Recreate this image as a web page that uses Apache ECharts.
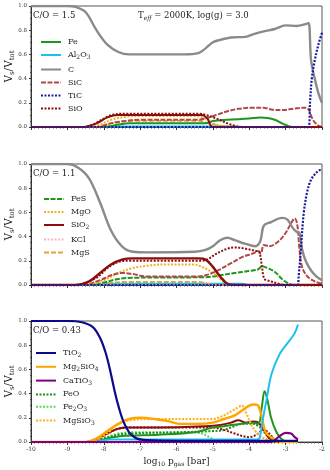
<!DOCTYPE html>
<html>
<head>
<meta charset="utf-8">
<script src="https://cdn.jsdelivr.net/npm/echarts@6/dist/echarts.min.js"></script>
<style>
  html, body { margin: 0; padding: 0; background: #fff; }
  #container { width: 330px; height: 470px; }
</style>
</head>
<body>
<div id="container"></div>
<script>
var dom = document.getElementById("container");
var myChart = echarts.init(dom);

// x = log10 p_gas [bar], y = V_s / V_tot
var xTicks = [-10, -9, -8, -7, -6, -5, -4, -3, -2];
var yTicks = [0.0, 0.2, 0.4, 0.6, 0.8, 1.0];
var panelLabels = ['C/O = 1.5', 'C/O = 1.1', 'C/O = 0.43'];

// ---- panel 1 : C/O = 1.5
var p1_Fe = [[-10,0],[-8.0,0],[-7.6,0.02],[-7.3,0.03],[-5.2,0.03],[-5.0,0.05],[-4.6,0.06],[-4.0,0.07],[-3.7,0.078],[-3.5,0.074],[-3.3,0.06],[-3.1,0.03],[-2.95,0.01],[-2.8,0],[-2,0]];
var p1_Al2O3 = [[-10,0],[-8.0,0],[-7.7,0.004],[-4.5,0.004],[-4.2,0],[-2,0]];
var p1_C = [[-10,1],[-9,1],[-8.75,0.99],[-8.5,0.95],[-8.2,0.8],[-7.9,0.68],[-7.6,0.62],[-7.3,0.6],[-6.5,0.6],[-5.8,0.6],[-5.4,0.61],[-5.2,0.65],[-5.0,0.7],[-4.8,0.72],[-4.5,0.74],[-4.1,0.745],[-3.9,0.765],[-3.6,0.79],[-3.3,0.81],[-3.0,0.84],[-2.7,0.835],[-2.45,0.85],[-2.37,0.86],[-2.3,0.55],[-2.2,0.4],[-2.1,0.28],[-2.0,0.2]];
var p1_SiC = [[-10,0],[-8.2,0],[-7.8,0.03],[-7.4,0.05],[-7.0,0.06],[-5.4,0.06],[-5.1,0.08],[-4.9,0.1],[-4.6,0.13],[-4.3,0.15],[-3.9,0.16],[-3.6,0.16],[-3.4,0.145],[-3.1,0.14],[-2.8,0.15],[-2.5,0.16],[-2.38,0.15],[-2.25,0.06],[-2.1,0.01],[-2.0,0]];
var p1_TiC = [[-10,0],[-2.37,0],[-2.33,0.2],[-2.28,0.4],[-2.2,0.55],[-2.1,0.68],[-2.0,0.78]];
var p1_SiO = [[-10,0],[-8.6,0],[-8.3,0.02],[-8.0,0.07],[-7.7,0.105],[-7.4,0.11],[-5.4,0.11],[-5.2,0.1],[-4.9,0.07],[-4.6,0.03],[-4.4,0.01],[-4.2,0],[-2,0]];
var p1_SiO2 = [[-10,0],[-8.6,0],[-8.2,0.03],[-7.9,0.08],[-7.6,0.1],[-5.3,0.1],[-5.15,0.07],[-5.0,0],[-2,0]];
var p1_MgO = [[-10,0],[-8.4,0],[-8.1,0.02],[-7.8,0.06],[-7.4,0.085],[-7.0,0.09],[-5.5,0.09],[-5.2,0.07],[-5.0,0.03],[-4.8,0.012],[-4.4,0.005],[-4.2,0],[-2,0]];
var p1_MgS = [[-10,0],[-8.2,0],[-7.7,0.04],[-7.2,0.05],[-5.4,0.05],[-5.1,0.03],[-4.8,0.01],[-4.6,0],[-2,0]];

// ---- panel 2 : C/O = 1.1
var p2_C = [[-10,1],[-9.0,1],[-8.7,0.97],[-8.4,0.88],[-8.1,0.68],[-7.8,0.45],[-7.5,0.32],[-7.2,0.275],[-6.8,0.27],[-5.5,0.275],[-5.2,0.29],[-5.0,0.32],[-4.8,0.37],[-4.6,0.39],[-4.4,0.37],[-4.1,0.34],[-3.85,0.32],[-3.7,0.36],[-3.6,0.49],[-3.4,0.52],[-3.1,0.555],[-2.95,0.54],[-2.8,0.47],[-2.7,0.44],[-2.62,0.43],[-2.55,0.3],[-2.45,0.2],[-2.3,0.12],[-2.15,0.07],[-2.0,0.04]];
var p2_TiC = [[-10,0],[-2.68,0],[-2.64,0.08],[-2.58,0.3],[-2.5,0.6],[-2.4,0.78],[-2.3,0.87],[-2.15,0.93],[-2.0,0.96]];
var p2_SiO2 = [[-10,0],[-8.8,0],[-8.4,0.03],[-8.1,0.1],[-7.8,0.17],[-7.5,0.21],[-7.2,0.22],[-5.4,0.22],[-5.2,0.21],[-5.0,0.15],[-4.8,0.07],[-4.6,0.01],[-4.4,0],[-2,0]];
var p2_SiO = [[-10,0],[-8.8,0],[-8.2,0.06],[-7.9,0.14],[-7.6,0.19],[-7.3,0.2],[-5.3,0.2],[-5.1,0.22],[-4.9,0.26],[-4.6,0.3],[-4.4,0.31],[-4.1,0.3],[-3.8,0.28],[-3.72,0.27],[-3.65,0.15],[-3.58,0.05],[-3.4,0.03],[-3.2,0.01],[-3.0,0],[-2,0]];
var p2_SiC = [[-10,0],[-8.6,0],[-8.1,0.04],[-7.8,0.08],[-7.5,0.1],[-7.2,0.09],[-6.8,0.07],[-5.4,0.07],[-5.1,0.09],[-4.8,0.13],[-4.5,0.18],[-4.2,0.23],[-3.9,0.26],[-3.75,0.28],[-3.68,0.26],[-3.6,0.33],[-3.45,0.32],[-3.2,0.36],[-3.0,0.43],[-2.85,0.51],[-2.75,0.55],[-2.68,0.5],[-2.62,0.3],[-2.55,0.15],[-2.4,0.07],[-2.2,0.03],[-2.0,0.01]];
var p2_MgO = [[-10,0],[-8.5,0],[-8.0,0.04],[-7.6,0.1],[-7.2,0.14],[-6.8,0.16],[-6.3,0.17],[-5.6,0.17],[-5.3,0.15],[-5.0,0.1],[-4.8,0.05],[-4.6,0.01],[-4.4,0],[-2,0]];
var p2_FeS = [[-10,0],[-8.3,0],[-8.0,0.02],[-7.6,0.05],[-7.2,0.06],[-5.2,0.065],[-4.8,0.08],[-4.4,0.1],[-4.0,0.115],[-3.75,0.13],[-3.65,0.155],[-3.5,0.14],[-3.3,0.11],[-3.1,0.05],[-2.9,0.01],[-2.7,0],[-2,0]];
var p2_Al2O3 = [[-10,0],[-8.2,0],[-7.9,0.01],[-4.2,0.01],[-4.0,0],[-2,0]];
var p2_KCl = [[-10,0],[-8.0,0],[-7.6,0.003],[-4.5,0.003],[-4.2,0],[-2,0]];
var p2_MgS = [[-10,0],[-8.3,0],[-7.8,0.02],[-7.4,0.025],[-5.4,0.025],[-5.1,0.01],[-4.8,0],[-2,0]];

// ---- panel 3 : C/O = 0.43
var p3_TiO2 = [[-10,1],[-9,1],[-8.6,0.99],[-8.3,0.95],[-8.1,0.86],[-7.95,0.74],[-7.83,0.6],[-7.7,0.42],[-7.58,0.28],[-7.46,0.17],[-7.3,0.08],[-7.1,0.03],[-6.8,0.015],[-6,0.01],[-2.66,0.01]];
var p3_Mg2SiO4 = [[-10,0],[-8.5,0],[-8.2,0.03],[-7.9,0.09],[-7.6,0.15],[-7.3,0.19],[-7.0,0.2],[-6.6,0.19],[-6.2,0.17],[-5.9,0.15],[-5.5,0.15],[-5.0,0.16],[-4.7,0.19],[-4.4,0.22],[-4.2,0.26],[-4.0,0.3],[-3.85,0.31],[-3.75,0.3],[-3.65,0.2],[-3.55,0.08],[-3.4,0.04],[-3.2,0.01],[-3.0,0],[-2.66,0]];
var p3_CaTiO3 = [[-10,0],[-3.4,0],[-3.2,0.04],[-3.0,0.075],[-2.85,0.07],[-2.75,0.04],[-2.66,0.02]];
var p3_FeO = [[-10,0],[-8.4,0],[-8.0,0.03],[-7.6,0.06],[-7.2,0.07],[-6.0,0.08],[-5.0,0.09],[-4.7,0.1],[-4.5,0.12],[-4.2,0.15],[-3.9,0.15],[-3.7,0.12],[-3.5,0.05],[-3.3,0.01],[-3.1,0],[-2.66,0]];
var p3_Fe2O3 = [[-10,0],[-8.4,0],[-8.0,0.03],[-7.6,0.07],[-7.2,0.08],[-5.6,0.08],[-5.3,0.07],[-5.1,0.04],[-4.9,0.01],[-4.7,0],[-2.66,0]];
var p3_MgSiO3 = [[-10,0],[-8.5,0],[-8.0,0.05],[-7.6,0.15],[-7.3,0.18],[-6.5,0.19],[-5.5,0.19],[-5.0,0.19],[-4.7,0.22],[-4.4,0.27],[-4.2,0.3],[-4.1,0.25],[-3.9,0.12],[-3.7,0.05],[-3.5,0.02],[-3.3,0],[-2.66,0]];
var p3_Al2O3 = [[-10,0],[-8.3,0],[-7.8,0.02],[-3.8,0.02],[-3.72,0.03],[-3.62,0.2],[-3.53,0.34],[-3.39,0.56],[-3.16,0.73],[-2.89,0.84],[-2.75,0.9],[-2.66,0.97]];
var p3_SiO2 = [[-10,0],[-8.5,0],[-8.1,0.04],[-7.7,0.1],[-7.4,0.12],[-6.5,0.12],[-5.2,0.13],[-4.8,0.14],[-4.5,0.16],[-4.3,0.18],[-4.1,0.16],[-3.9,0.17],[-3.75,0.16],[-3.6,0.1],[-3.45,0.03],[-3.3,0],[-2.66,0]];
var p3_SiO = [[-10,0],[-8.4,0],[-8.0,0.05],[-7.6,0.11],[-7.2,0.12],[-5.0,0.12],[-4.7,0.1],[-4.4,0.07],[-4.2,0.05],[-4.0,0.04],[-3.8,0.06],[-3.6,0.1],[-3.45,0.07],[-3.3,0.02],[-3.1,0],[-2.66,0]];
var p3_Fe = [[-10,0],[-8.3,0],[-7.9,0.03],[-7.5,0.05],[-6.5,0.06],[-5.5,0.08],[-5.0,0.12],[-4.7,0.13],[-4.5,0.14],[-4.2,0.15],[-3.9,0.16],[-3.75,0.15],[-3.65,0.3],[-3.58,0.42],[-3.5,0.35],[-3.4,0.2],[-3.25,0.08],[-3.1,0.02],[-2.9,0],[-2.66,0]];

var serif = 'DejaVu Serif';
var rich = {
    s: { fontSize: 6, fontFamily: serif, color: '#222', padding: [5, 0, 0, 0] },
    i: { fontSize: 6, fontFamily: serif, fontStyle: 'italic', color: '#222', padding: [5, 0, 0, 0] }
};
var richBig = {
    s: { fontSize: 7, fontFamily: serif, color: '#222', padding: [6, 0, 0, 0] }
};
function sub(name) {
    // Al2O3 -> Al{s|2}O{s|3}
    return name.replace(/(\d+)/g, '{s|$1}');
}

var seriesList = [];
function addLine(panel, name, data, color, type, width) {
    seriesList.push({
        name: name,
        type: 'line',
        xAxisIndex: panel,
        yAxisIndex: panel,
        data: data,
        smooth: 0.35,
        showSymbol: false,
        symbol: 'none',
        silent: true,
        lineStyle: { color: color, width: width || 2, type: type || 'solid' },
        itemStyle: { color: color }
    });
}

// panel 1
addLine(0, 'MgS', p1_MgS, '#e3a33b', [5, 2], 1.8);
addLine(0, 'Al2O3', p1_Al2O3, '#1fbfef', 'solid', 2);
addLine(0, 'MgO', p1_MgO, '#f2b01e', [2, 1.5], 2);
addLine(0, 'Fe', p1_Fe, '#1e961e', 'solid', 2);
addLine(0, 'SiC', p1_SiC, '#b04848', [5, 1.5], 2);
addLine(0, 'SiO2', p1_SiO2, '#8b0d0d', 'solid', 2);
addLine(0, 'SiO', p1_SiO, '#8b0d0d', [2, 1.5], 2);
addLine(0, 'C', p1_C, '#8a8a8a', 'solid', 2.4);
addLine(0, 'TiC', p1_TiC, '#1a1aa0', [2, 1.5], 2.2);
// panel 2
addLine(1, 'KCl', p2_KCl, '#f4b8c8', [2, 1.5], 2);
addLine(1, 'Al2O3', p2_Al2O3, '#1fbfef', 'solid', 2);
addLine(1, 'MgS', p2_MgS, '#e3a33b', [5, 2], 1.8);
addLine(1, 'FeS', p2_FeS, '#1e961e', [5, 1.5], 2);
addLine(1, 'MgO', p2_MgO, '#f2b01e', [2, 1.5], 2);
addLine(1, 'SiC', p2_SiC, '#b04848', [5, 1.5], 2);
addLine(1, 'SiO2', p2_SiO2, '#8b0d0d', 'solid', 2.4);
addLine(1, 'SiO', p2_SiO, '#8b0d0d', [2, 1.5], 2);
addLine(1, 'C', p2_C, '#8a8a8a', 'solid', 2.4);
addLine(1, 'TiC', p2_TiC, '#1a1aa0', [2, 1.5], 2.2);
// panel 3
addLine(2, 'Fe2O3', p3_Fe2O3, '#52e052', [2, 1.5], 2);
addLine(2, 'FeO', p3_FeO, '#1e8a1e', [2, 1.5], 2);
addLine(2, 'SiO', p3_SiO, '#8b0d0d', [2, 1.5], 2);
addLine(2, 'SiO2', p3_SiO2, '#8b0d0d', 'solid', 2);
addLine(2, 'Fe', p3_Fe, '#1e961e', 'solid', 2);
addLine(2, 'MgSiO3', p3_MgSiO3, '#ffb020', [2, 1.5], 2.2);
addLine(2, 'Mg2SiO4', p3_Mg2SiO4, '#ffa500', 'solid', 2.4);
addLine(2, 'Al2O3', p3_Al2O3, '#1fbfef', 'solid', 2);
addLine(2, 'CaTiO3', p3_CaTiO3, '#800080', 'solid', 2.2);
addLine(2, 'TiO2', p3_TiO2, '#0a0a8a', 'solid', 2.2);

var legendNames = [
    ['Fe', 'Al2O3', 'C', 'SiC', 'TiC', 'SiO'],
    ['FeS', 'MgO', 'SiO2', 'KCl', 'MgS'],
    ['TiO2', 'Mg2SiO4', 'CaTiO3', 'FeO', 'Fe2O3', 'MgSiO3']
];
var legendPos = [[40, 38], [43, 195], [35, 349]];
var legendGaps = [5, 5, 4.3];
var gridTops = [6, 164, 321];

var grids = [], xAxes = [], yAxes = [], legends = [], titles = [];
for (var k = 0; k < 3; k++) {
    grids.push({ left: 31, right: 8, top: gridTops[k], height: 121, outerBoundsMode: 'none',
        show: true, borderColor: '#555', borderWidth: 1 });
    xAxes.push({
        type: 'value', gridIndex: k, min: -10, max: -2, interval: 1,
        axisLine: { onZero: false, lineStyle: { color: '#333' } },
        axisTick: { show: true, length: 3, lineStyle: { color: '#333' } },
        minorTick: { show: true, splitNumber: 10, length: 1.5, lineStyle: { color: '#555' } },
        splitLine: { show: false },
        axisLabel: { show: k === 2, fontSize: 6, fontFamily: serif, color: '#333', margin: 4 },
        name: k === 2 ? 'log{s|10} p{s|gas} [bar]' : '',
        nameLocation: 'middle', nameGap: 14, nameMoveOverlap: false,
        nameTextStyle: { fontSize: 9, fontFamily: serif, color: '#222', rich: rich }
    });
    yAxes.push({
        type: 'value', gridIndex: k, min: 0, max: 1, interval: 0.2,
        axisLine: { lineStyle: { color: '#333' } },
        axisTick: { show: true, length: 2, lineStyle: { color: '#333' } },
        minorTick: { show: true, splitNumber: 4, length: 1, lineStyle: { color: '#555' } },
        splitLine: { show: false },
        axisLabel: { fontSize: 5.5, fontFamily: serif, color: '#333', margin: 4,
            formatter: function (v) { return v.toFixed(1); } },
        name: 'V{s|s}/V{s|tot}', nameLocation: 'middle', nameGap: 15, nameRotate: 90,
        nameMoveOverlap: false,
        nameTextStyle: { fontSize: 10.5, fontFamily: serif, color: '#222', rich: richBig }
    });
    legends.push({
        data: legendNames[k], orient: 'vertical', left: legendPos[k][0], top: legendPos[k][1],
        padding: 0, itemWidth: 20, itemHeight: 6, itemGap: legendGaps[k], selectedMode: false,
        itemStyle: { opacity: 0 },
        formatter: function (n) { return sub(n); },
        textStyle: { fontSize: 8, fontFamily: serif, color: '#222', rich: rich, padding: [0, 0, 0, 2] }
    });
    titles.push({
        text: panelLabels[k], left: 33, top: gridTops[k] + 5, padding: 0,
        textStyle: { fontSize: 8.5, fontWeight: 'normal', fontFamily: serif, color: '#222' }
    });
}
titles.push({
    text: 'T{i|eff} = 2000K, log(g) = 3.0', left: 138, top: 10, padding: 0,
    textStyle: { fontSize: 8.5, fontWeight: 'normal', fontFamily: serif, color: '#222', rich: rich }
});

var option = {
    animation: false,
    backgroundColor: '#fff',
    title: titles,
    legend: legends,
    grid: grids,
    xAxis: xAxes,
    yAxis: yAxes,
    series: seriesList
};
myChart.setOption(option, true);
</script>
</body>
</html>
